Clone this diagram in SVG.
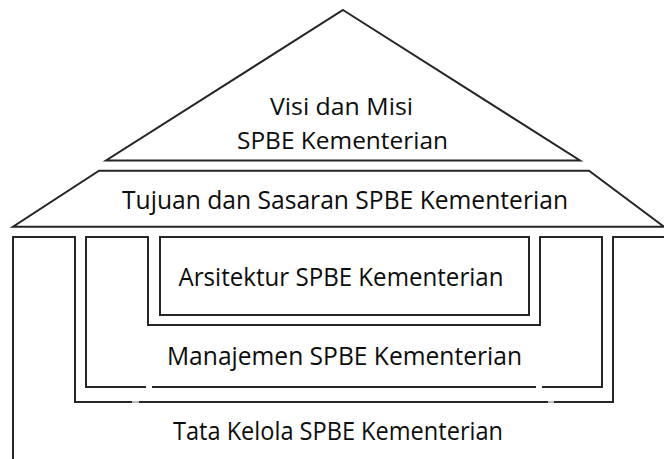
<svg xmlns="http://www.w3.org/2000/svg" width="664" height="459" viewBox="0 0 664 459">
  <style>
    .ln { fill: none; stroke: #262626; stroke-width: 2; stroke-linejoin: miter; }
    .lb { font-family: "Open Sans", "Noto Sans", "Liberation Sans", sans-serif; font-size: 26px; fill: #0d0d0d; text-anchor: middle; }
    .lb2 { font-size: 24.5px; }
  </style>
  <rect width="664" height="459" fill="#ffffff"/>
  <g id="visi-misi">
    <polygon class="ln" points="343,10 580,160.5 106,160.5"/>
    <text class="lb lb2" x="341.5" y="115" textLength="143" lengthAdjust="spacingAndGlyphs">Visi dan Misi</text>
    <text class="lb lb2" x="342.5" y="149" textLength="211" lengthAdjust="spacingAndGlyphs">SPBE Kementerian</text>
  </g>
  <g id="tujuan-sasaran">
    <polygon class="ln" points="99,170.7 589,170.7 664,226.7 13,226.7"/>
    <text class="lb" x="345" y="209" textLength="446" lengthAdjust="spacingAndGlyphs">Tujuan dan Sasaran SPBE Kementerian</text>
  </g>
  <g id="tata-kelola">
    <polyline class="ln" points="13,459 13,237 75,237 75,402 613,402 613,237 664,237"/>
    <line x1="132" y1="402" x2="139" y2="402" stroke="#bbbbbb" stroke-width="2"/>
    <line x1="548" y1="402" x2="554" y2="402" stroke="#bbbbbb" stroke-width="2"/>
    <text class="lb" x="338" y="440" textLength="330" lengthAdjust="spacingAndGlyphs">Tata Kelola SPBE Kementerian</text>
  </g>
  <g id="manajemen">
    <polyline class="ln" points="146,387 86,387 86,237 148,237 148,325 540,325 540,237 602,237 602,387 542,387"/>
    <line class="ln" x1="152" y1="387" x2="536" y2="387"/>
    <text class="lb" x="344.5" y="365" textLength="355" lengthAdjust="spacingAndGlyphs">Manajemen SPBE Kementerian</text>
  </g>
  <g id="arsitektur">
    <rect class="ln" x="160" y="237" width="369" height="78"/>
    <text class="lb" x="341" y="286" textLength="325" lengthAdjust="spacingAndGlyphs">Arsitektur SPBE Kementerian</text>
  </g>
  <g id="connectors"></g>
</svg>
